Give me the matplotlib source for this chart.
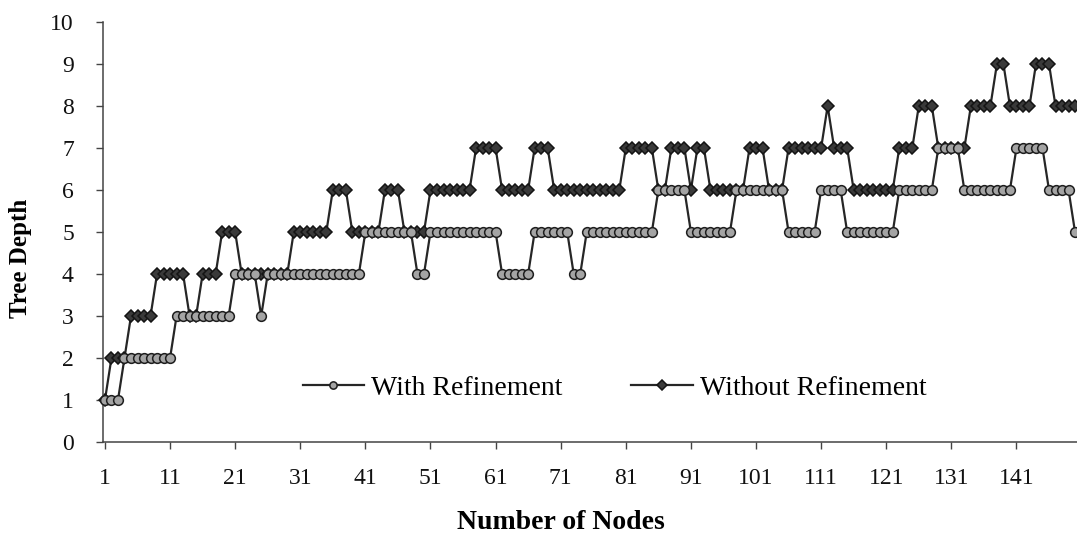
import matplotlib
matplotlib.use("Agg")
import matplotlib.pyplot as plt
import numpy as np

W, H = 1077, 544

# tree depth per number of nodes (1..150)
nos = np.arange(1, 151)
com_refino = [
    1, 1, 1, 2, 2, 2, 2, 2, 2, 2,
    2, 3, 3, 3, 3, 3, 3, 3, 3, 3,
    4, 4, 4, 4, 3, 4, 4, 4, 4, 4,
    4, 4, 4, 4, 4, 4, 4, 4, 4, 4,
    5, 5, 5, 5, 5, 5, 5, 5, 4, 4,
    5, 5, 5, 5, 5, 5, 5, 5, 5, 5,
    5, 4, 4, 4, 4, 4, 5, 5, 5, 5,
    5, 5, 4, 4, 5, 5, 5, 5, 5, 5,
    5, 5, 5, 5, 5, 6, 6, 6, 6, 6,
    5, 5, 5, 5, 5, 5, 5, 6, 6, 6,
    6, 6, 6, 6, 6, 5, 5, 5, 5, 5,
    6, 6, 6, 6, 5, 5, 5, 5, 5, 5,
    5, 5, 6, 6, 6, 6, 6, 6, 7, 7,
    7, 7, 6, 6, 6, 6, 6, 6, 6, 6,
    7, 7, 7, 7, 7, 6, 6, 6, 6, 5,
]
sem_refino = [
    1, 2, 2, 2, 3, 3, 3, 3, 4, 4,
    4, 4, 4, 3, 3, 4, 4, 4, 5, 5,
    5, 4, 4, 4, 4, 4, 4, 4, 4, 5,
    5, 5, 5, 5, 5, 6, 6, 6, 5, 5,
    5, 5, 5, 6, 6, 6, 5, 5, 5, 5,
    6, 6, 6, 6, 6, 6, 6, 7, 7, 7,
    7, 6, 6, 6, 6, 6, 7, 7, 7, 6,
    6, 6, 6, 6, 6, 6, 6, 6, 6, 6,
    7, 7, 7, 7, 7, 6, 6, 7, 7, 7,
    6, 7, 7, 6, 6, 6, 6, 6, 6, 7,
    7, 7, 6, 6, 6, 7, 7, 7, 7, 7,
    7, 8, 7, 7, 7, 6, 6, 6, 6, 6,
    6, 6, 7, 7, 7, 8, 8, 8, 7, 7,
    7, 7, 7, 8, 8, 8, 8, 9, 9, 8,
    8, 8, 8, 9, 9, 9, 8, 8, 8, 8,
]
rotulos_x = list(range(1, 151, 10))
rotulos_y = list(range(0, 11))

plt.rcParams["font.family"] = ["Liberation Serif", "DejaVu Serif"]

fig = plt.figure(figsize=(W / 100, H / 100), dpi=100)
ax = fig.add_axes([103 / W, 1 - 442 / H, 1 - 103 / W, (442 - 22) / H])

linha = "#262626"
ax.plot(nos, com_refino, color=linha, lw=1.6, marker="o", ms=7,
        mfc="#a4a4a4", mec="#1e1e1e", mew=1.1, label="With Refinement",
        clip_on=False, zorder=3)
ax.plot(nos, sem_refino, color=linha, lw=1.6, marker="D", ms=6.5,
        mfc="#3a3a3a", mec="#141414", mew=1.1, label="Without Refinement",
        clip_on=False, zorder=2)

ax.set_xlim(0.7, 150.3)
ax.set_ylim(0, 10)
ax.set_xticks(rotulos_x)
ax.set_yticks(rotulos_y)
ax.tick_params(axis="both", direction="out", length=5, width=1,
               color="#444444", labelsize=17, labelcolor="#111111")
ax.tick_params(axis="x", pad=14)
ax.tick_params(axis="y", pad=16)

for lado in ("top", "right"):
    ax.spines[lado].set_visible(False)
for lado in ("left", "bottom"):
    ax.spines[lado].set_color("#444444")
    ax.spines[lado].set_linewidth(1.1)

ax.set_xlabel("Number of Nodes", fontsize=20, fontweight="bold")
ax.xaxis.set_label_coords(0.47, -0.162)
ax.set_ylabel("Tree Depth", fontsize=18, fontweight="bold")
ax.yaxis.set_label_coords(-0.073, 0.438)

ax.legend(loc="center", bbox_to_anchor=(0.525, 0.129), ncol=2, frameon=False,
          fontsize=20, handlelength=2.2, handletextpad=0.25, columnspacing=2.5,
          markerscale=0.75)

fig.savefig("out.png", dpi=100, facecolor="white")
plt.close(fig)
